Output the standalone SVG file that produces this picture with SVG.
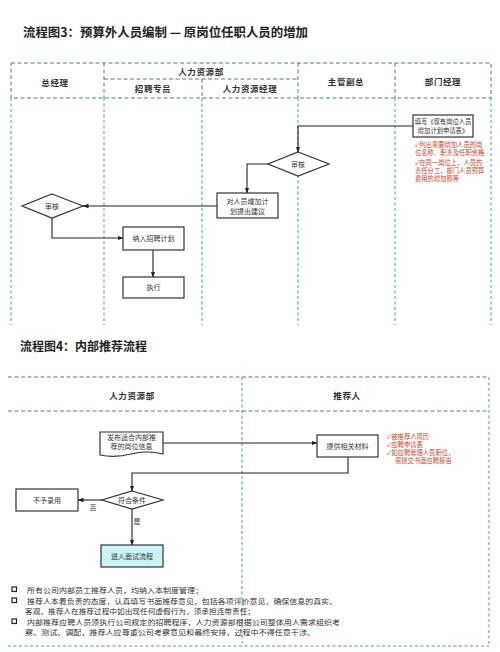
<svg xmlns="http://www.w3.org/2000/svg" width="500" height="652" viewBox="0 0 500 652">
<style>
.title{font-family:"Noto Sans CJK SC","Liberation Serif",serif;font-weight:700;font-size:12.5px;fill:#222}
.hdr{font-family:"Noto Sans CJK SC",sans-serif;font-weight:700;font-size:8.5px;fill:#333;text-anchor:middle;letter-spacing:0.6px}
.t{font-family:"Noto Sans CJK SC",sans-serif;font-size:7px;fill:#333;text-anchor:middle}
.note{font-family:"Noto Sans CJK SC",sans-serif;font-size:6.3px;fill:#c8452a}
.foot{font-family:"Noto Sans CJK SC",sans-serif;font-size:7px;fill:#333}
.hl{stroke:#4f7f80;stroke-width:1;stroke-dasharray:4 2.5;fill:none}
.ln{stroke:#3fa3a6;stroke-width:1;stroke-dasharray:3 2.5;fill:none}
.box{fill:#fff;stroke:#333;stroke-width:1.2}
.con{fill:none;stroke:#222;stroke-width:1.1;marker-end:url(#ah)}
</style>
<defs>
<marker id="ah" markerWidth="6" markerHeight="6" refX="5.5" refY="3" orient="auto" markerUnits="userSpaceOnUse">
<path d="M0,0.8 L6,3 L0,5.2 Z" fill="#222"/>
</marker>
</defs>
<rect width="500" height="652" fill="#fff"/>

<!-- Flowchart 3 -->
<text class="title" x="23" y="37" textLength="285" lengthAdjust="spacingAndGlyphs">流程图3：预算外人员编制 — 原岗位任职人员的增加</text>
<g id="lanes3">
<rect class="hl" x="11" y="63" width="480" height="35"/>
<path class="hl" d="M104,63 V98 M298,63 V98 M395,63 V98 M104,79 H298 M202,79 V98"/>
<path class="ln" d="M11,98 V325 M104,98 V325 M202,98 V325 M298,98 V325 M395,98 V325 M491,98 V325"/>
<text class="hdr" x="55" y="86">总经理</text>
<text class="hdr" x="201" y="75">人力资源部</text>
<text class="hdr" x="153" y="92">招聘专员</text>
<text class="hdr" x="250" y="92">人力资源经理</text>
<text class="hdr" x="346" y="85">主管副总</text>
<text class="hdr" x="443" y="85">部门经理</text>
</g>

<g id="connectors3">
<path class="con" d="M413,126 H298 V152"/>
<path class="con" d="M268,164 H247 V193"/>
<path class="con" d="M217,206 H83"/>
<path class="con" d="M52,218 V238 H123"/>
<path class="con" d="M153,250 V277"/>
</g>

<g id="n_apply">
<rect class="box" x="413" y="115" width="60" height="22"/>
<text class="t" x="443" y="124" style="font-size:6.3px">填写《现有岗位人员</text>
<text class="t" x="443" y="133" style="font-size:6.3px">增加计划申请表》</text>
</g>
<g id="n_note3">
<text class="note" x="415" y="147">✓列出需要增加人员的岗</text>
<text class="note" x="415" y="155">位名称、职责及任职资格</text>
<text class="note" x="415" y="165">✓在同一岗位上，人员的</text>
<text class="note" x="415" y="173">责任分工，部门人员预算</text>
<text class="note" x="415" y="181">费用的增加额等</text>
</g>
<g id="n_review1">
<polygon class="box" points="298,152 329,164 298,176 268,164"/>
<text class="t" x="298" y="166.5">审核</text>
</g>
<g id="n_suggest">
<rect class="box" x="217" y="193" width="61" height="25"/>
<text class="t" x="247.5" y="203.5">对人员增加计</text>
<text class="t" x="247.5" y="213.5">划提出建议</text>
</g>
<g id="n_review2">
<polygon class="box" points="52,194 83,206 52,218 22,206"/>
<text class="t" x="52" y="208.5">审核</text>
</g>
<g id="n_plan">
<rect class="box" x="123" y="227" width="61" height="23"/>
<text class="t" x="153.5" y="241">纳入招聘计划</text>
</g>
<g id="n_exec">
<rect class="box" x="123" y="277" width="61" height="21"/>
<text class="t" x="153.5" y="290">执行</text>
</g>

<!-- Flowchart 4 -->
<text class="title" x="20" y="351" textLength="127" lengthAdjust="spacingAndGlyphs">流程图4：内部推荐流程</text>
<g id="lanes4">
<path class="hl" d="M8,377 H489 M8,411 H489"/>
<path class="ln" d="M242,377 V643 M489,377 V646 M8,646 H489"/>
<text class="hdr" x="132" y="399">人力资源部</text>
<text class="hdr" x="347" y="399">推荐人</text>
</g>

<g id="connectors4">
<path class="con" d="M163,443 H317"/>
<path class="con" d="M348,457 V473 H132 V491"/>
<path class="con" d="M102,500 H78"/>
<path class="con" d="M132,509 V545"/>
<text class="t" x="93" y="510">否</text>
<text class="t" x="137" y="524">是</text>
</g>

<g id="n_publish">
<path class="box" d="M100,432 H163 V454 Q147,450 131,454 Q115,458 100,455 Z"/>
<text class="t" x="131.5" y="440">发布适合内部推</text>
<text class="t" x="131.5" y="449">荐的岗位信息</text>
</g>
<g id="n_material">
<rect class="box" x="317" y="435" width="61" height="22"/>
<text class="t" x="347.5" y="448.5">提供相关材料</text>
</g>
<g id="n_note4">
<text class="note" x="387" y="439">✓被推荐人简历</text>
<text class="note" x="387" y="447">✓应聘申请表</text>
<text class="note" x="387" y="455">✓如应聘管理人员职位，</text>
<text class="note" x="395" y="463">需提交书面应聘报告</text>
</g>
<g id="n_check">
<polygon class="box" points="132,491 163,500 132,509 102,500"/>
<text class="t" x="132" y="502.5">符合条件</text>
</g>
<g id="n_reject">
<rect class="box" x="16" y="489" width="62" height="22"/>
<text class="t" x="47" y="502.5">不予录用</text>
</g>
<g id="n_interview">
<rect class="box" x="101" y="545" width="62" height="22" style="fill:#c9f3f4"/>
<text class="t" x="132" y="558.5">进入面试流程</text>
</g>

<g id="footnotes">
<rect x="12" y="587" width="4.5" height="4.5" fill="none" stroke="#222" stroke-width="1.2"/>
<rect x="12" y="598" width="4.5" height="4.5" fill="none" stroke="#222" stroke-width="1.2"/>
<rect x="12" y="619" width="4.5" height="4.5" fill="none" stroke="#222" stroke-width="1.2"/>
<text class="foot" x="27" y="592.5" textLength="176" lengthAdjust="spacingAndGlyphs">所有公司内部员工推荐人员，均纳入本制度管理；</text>
<text class="foot" x="27" y="603.5" textLength="310" lengthAdjust="spacingAndGlyphs">推荐人本着负责的态度，认真填写书面推荐意见，包括各项评价意见，确保信息的真实、</text>
<text class="foot" x="25" y="614" textLength="230" lengthAdjust="spacingAndGlyphs">客观，推荐人在推荐过程中如出现任何虚假行为，须承担连带责任；</text>
<text class="foot" x="27" y="624.5" textLength="313" lengthAdjust="spacingAndGlyphs">内部推荐应聘人员须执行公司规定的招聘程序，人力资源部根据公司整体用人需求组织考</text>
<text class="foot" x="25" y="635" textLength="290" lengthAdjust="spacingAndGlyphs">察、测试、调配，推荐人应尊重公司考察意见和最终安排，过程中不得任意干涉。</text>
</g>
</svg>
